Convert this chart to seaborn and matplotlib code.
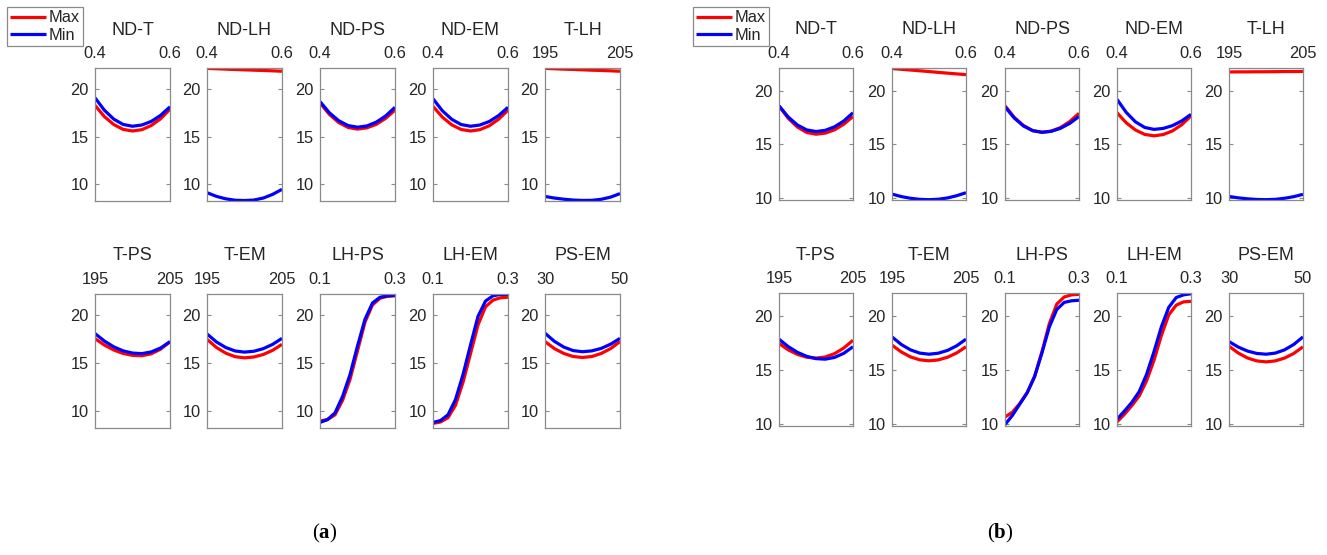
import numpy as np
import pandas as pd
import matplotlib
matplotlib.use("Agg")
import matplotlib.pyplot as plt
import seaborn as sns

sns.set_style("white")
plt.rcParams["font.family"] = ["Liberation Sans", "DejaVu Sans"]
plt.rcParams["mathtext.fontset"] = "custom"
plt.rcParams["mathtext.rm"] = "Liberation Serif"
plt.rcParams["mathtext.bf"] = "Liberation Serif:bold"

# ---------------- data ----------------
PAIRS = ["ND-T", "ND-LH", "ND-PS", "ND-EM", "T-LH",
         "T-PS", "T-EM", "LH-PS", "LH-EM", "PS-EM"]

X_ND = [0.400, 0.425, 0.450, 0.475, 0.500, 0.525, 0.550, 0.575, 0.600]
X_T = [195.0, 196.25, 197.5, 198.75, 200.0, 201.25, 202.5, 203.75, 205.0]
X_PS = [30.0, 32.5, 35.0, 37.5, 40.0, 42.5, 45.0, 47.5, 50.0]
X_LH = [0.10, 0.12, 0.14, 0.16, 0.18, 0.20, 0.22, 0.24, 0.26, 0.28, 0.30]

TICK_ND = ["0.4", "0.6"]
TICK_T = ["195", "205"]
TICK_LH = ["0.1", "0.3"]
TICK_PS = ["30", "50"]

Y_TICKS = [10, 15, 20]

# panel (a)
A_ND_T_MAX = [18.3, 17.12, 16.28, 15.77, 15.6, 15.74, 16.18, 16.89, 17.9]
A_ND_T_MIN = [19.1, 17.79, 16.85, 16.29, 16.1, 16.23, 16.61, 17.25, 18.15]
A_ND_LH_MAX = [22.2, 22.16, 22.12, 22.08, 22.05, 22.01, 21.98, 21.94, 21.9]
A_ND_LH_MIN = [9.1, 8.71, 8.45, 8.3, 8.27, 8.32, 8.53, 8.92, 9.45]
A_ND_PS_MAX = [18.56, 17.35, 16.49, 15.97, 15.8, 15.93, 16.3, 16.93, 17.8]
A_ND_PS_MIN = [18.7, 17.52, 16.68, 16.17, 16.0, 16.13, 16.53, 17.18, 18.1]
A_ND_EM_MAX = [18.2, 17.06, 16.25, 15.76, 15.6, 15.74, 16.15, 16.84, 17.8]
A_ND_EM_MIN = [19.0, 17.73, 16.83, 16.28, 16.1, 16.23, 16.6, 17.23, 18.1]
A_T_LH_MAX = [22.2, 22.16, 22.12, 22.09, 22.05, 22.01, 21.98, 21.94, 21.9]
A_T_LH_MIN = [8.7, 8.53, 8.41, 8.32, 8.28, 8.29, 8.4, 8.63, 9.0]
A_T_PS_MAX = [17.57, 16.9, 16.38, 16.02, 15.82, 15.78, 15.98, 16.47, 17.25]
A_T_PS_MIN = [18.1, 17.32, 16.71, 16.29, 16.06, 16.0, 16.18, 16.59, 17.25]
A_T_EM_MAX = [17.5, 16.65, 16.05, 15.68, 15.56, 15.65, 15.91, 16.35, 16.97]
A_T_EM_MIN = [18.06, 17.23, 16.64, 16.28, 16.16, 16.25, 16.52, 16.97, 17.6]
A_LH_PS_MAX = [8.95, 9.1, 9.6, 11.1, 13.3, 16.3, 19.3, 21.1, 21.8, 22.0, 22.05]
A_LH_PS_MIN = [8.8, 9.1, 9.8, 11.5, 13.8, 16.8, 19.6, 21.3, 21.9, 22.05, 22.1]
A_LH_EM_MAX = [8.7, 8.85, 9.3, 10.6, 13.0, 16.0, 19.0, 20.9, 21.6, 21.85, 21.9]
A_LH_EM_MIN = [8.8, 9.0, 9.6, 11.2, 13.8, 16.9, 19.9, 21.5, 22.05, 22.2, 22.2]
A_PS_EM_MAX = [17.26, 16.53, 16.02, 15.7, 15.6, 15.7, 16.02, 16.53, 17.26]
A_PS_EM_MIN = [18.14, 17.29, 16.69, 16.32, 16.2, 16.29, 16.55, 16.99, 17.6]

# panel (b)
B_ND_T_MAX = [18.58, 17.43, 16.61, 16.11, 15.95, 16.05, 16.36, 16.88, 17.6]
B_ND_T_MIN = [18.6, 17.55, 16.8, 16.35, 16.2, 16.31, 16.64, 17.18, 17.95]
B_ND_LH_MAX = [22.07, 22.0, 21.93, 21.86, 21.79, 21.71, 21.64, 21.57, 21.5]
B_ND_LH_MIN = [10.37, 10.14, 9.98, 9.88, 9.85, 9.89, 10.01, 10.22, 10.5]
B_ND_PS_MAX = [18.6, 17.52, 16.75, 16.28, 16.13, 16.24, 16.57, 17.13, 17.9]
B_ND_PS_MIN = [18.5, 17.46, 16.72, 16.28, 16.13, 16.22, 16.5, 16.96, 17.6]
B_ND_EM_MAX = [17.95, 17.01, 16.34, 15.93, 15.8, 15.92, 16.26, 16.84, 17.65]
B_ND_EM_MIN = [19.2, 17.98, 17.1, 16.58, 16.4, 16.49, 16.75, 17.19, 17.8]
B_T_LH_MAX = [21.75, 21.76, 21.76, 21.77, 21.77, 21.78, 21.79, 21.79, 21.8]
B_T_LH_MIN = [10.15, 10.02, 9.93, 9.87, 9.85, 9.88, 9.98, 10.13, 10.35]
B_T_PS_MAX = [17.45, 16.86, 16.44, 16.18, 16.1, 16.2, 16.51, 17.03, 17.75]
B_T_PS_MIN = [17.85, 17.16, 16.63, 16.26, 16.05, 16.0, 16.16, 16.54, 17.15]
B_T_EM_MAX = [17.3, 16.67, 16.21, 15.94, 15.85, 15.93, 16.18, 16.58, 17.15]
B_T_EM_MIN = [18.06, 17.36, 16.86, 16.56, 16.46, 16.55, 16.81, 17.24, 17.85]
B_LH_PS_MAX = [10.65, 11.1, 11.9, 12.9, 14.4, 16.7, 19.3, 21.1, 21.75, 21.95, 22.0]
B_LH_PS_MIN = [9.95, 10.8, 11.85, 12.9, 14.4, 16.6, 19.0, 20.6, 21.25, 21.4, 21.45]
B_LH_EM_MAX = [10.2, 10.9, 11.7, 12.6, 14.0, 15.9, 18.2, 20.1, 21.0, 21.3, 21.35]
B_LH_EM_MIN = [10.45, 11.2, 12.0, 13.0, 14.6, 16.7, 19.0, 20.8, 21.7, 21.95, 22.05]
B_PS_EM_MAX = [17.2, 16.57, 16.11, 15.84, 15.75, 15.84, 16.1, 16.53, 17.14]
B_PS_EM_MIN = [17.63, 17.12, 16.75, 16.53, 16.46, 16.56, 16.86, 17.36, 18.06]

X_GRID = {"ND": X_ND, "T": X_T, "LH": X_LH, "PS": X_PS}
X_TICKLABELS = {"ND": TICK_ND, "T": TICK_T, "LH": TICK_LH, "PS": TICK_PS}

DATA = {
    "a": {
        "ND-T": (A_ND_T_MAX, A_ND_T_MIN), "ND-LH": (A_ND_LH_MAX, A_ND_LH_MIN),
        "ND-PS": (A_ND_PS_MAX, A_ND_PS_MIN), "ND-EM": (A_ND_EM_MAX, A_ND_EM_MIN),
        "T-LH": (A_T_LH_MAX, A_T_LH_MIN), "T-PS": (A_T_PS_MAX, A_T_PS_MIN),
        "T-EM": (A_T_EM_MAX, A_T_EM_MIN), "LH-PS": (A_LH_PS_MAX, A_LH_PS_MIN),
        "LH-EM": (A_LH_EM_MAX, A_LH_EM_MIN), "PS-EM": (A_PS_EM_MAX, A_PS_EM_MIN),
    },
    "b": {
        "ND-T": (B_ND_T_MAX, B_ND_T_MIN), "ND-LH": (B_ND_LH_MAX, B_ND_LH_MIN),
        "ND-PS": (B_ND_PS_MAX, B_ND_PS_MIN), "ND-EM": (B_ND_EM_MAX, B_ND_EM_MIN),
        "T-LH": (B_T_LH_MAX, B_T_LH_MIN), "T-PS": (B_T_PS_MAX, B_T_PS_MIN),
        "T-EM": (B_T_EM_MAX, B_T_EM_MIN), "LH-PS": (B_LH_PS_MAX, B_LH_PS_MIN),
        "LH-EM": (B_LH_EM_MAX, B_LH_EM_MIN), "PS-EM": (B_PS_EM_MAX, B_PS_EM_MIN),
    },
}

# ---------------- layout ----------------
W, H = 1327, 555
fig = plt.figure(figsize=(W / 100, H / 100), dpi=100)

COL_LEFT = {"a": [95, 207, 320, 433, 545], "b": [779, 892, 1005, 1117, 1229]}
COL_W = {"a": 75, "b": 74}
ROW_Y = {"a": [(68, 201), (294, 428)], "b": [(68, 200), (293, 426)]}
YLIM = {"a": (8.22, 22.24), "b": (9.82, 22.12)}
SPINE = "#8a8a8a"
TXT = "#262626"
PALETTE = {"Max": "#ff0000", "Min": "#0000ff"}
TICK_FS = 11.8
TITLE_FS = 13

first_ax = {}
for p in ["a", "b"]:
    for idx, pair in enumerate(PAIRS):
        r, c = divmod(idx, 5)
        top, bot = ROW_Y[p][r]
        left = COL_LEFT[p][c]
        ax = fig.add_axes([left / W, 1 - bot / H, COL_W[p] / W, (bot - top) / H])
        var = pair.split("-")[0]
        xs = X_GRID[var]
        ymax, ymin = DATA[p][pair]
        df = pd.DataFrame({
            "x": list(xs) + list(xs),
            "y": list(ymax) + list(ymin),
            "s": ["Max"] * len(xs) + ["Min"] * len(xs),
        })
        sns.lineplot(data=df, x="x", y="y", hue="s", hue_order=["Max", "Min"],
                     palette=PALETTE, linewidth=2.3, legend=False, ax=ax,
                     solid_joinstyle="round", solid_capstyle="butt")
        ax.set_xlim(xs[0], xs[-1])
        ax.set_ylim(*YLIM[p])
        ax.set_xticks([xs[0], xs[-1]])
        ax.set_xticklabels(X_TICKLABELS[var])
        ax.set_yticks(Y_TICKS)
        ax.set_yticklabels([str(t) for t in Y_TICKS])
        ax.xaxis.tick_top()
        ax.tick_params(axis="x", top=True, bottom=False, direction="in", length=0,
                       pad=5, labelsize=TICK_FS, labelcolor=TXT)
        ax.tick_params(axis="y", left=True, right=True, direction="in", length=3,
                       width=0.8, color=SPINE, pad=4.5, labelsize=TICK_FS, labelcolor=TXT)
        ax.set_xlabel("")
        ax.set_ylabel("")
        for sp in ax.spines.values():
            sp.set_visible(True)
            sp.set_color(SPINE)
            sp.set_linewidth(0.9)
        ax.text(0.5, 1 + 38 / (bot - top), pair, transform=ax.transAxes,
                ha="center", va="center", fontsize=TITLE_FS, color=TXT)
        if idx == 0:
            first_ax[p] = ax

# legends
LEG_POS = {"a": (7, 7), "b": (693, 7)}
for p in ["a", "b"]:
    handles = first_ax[p].get_lines()[:2]
    leg = fig.legend(handles, ["Max", "Min"], loc="upper left",
                     bbox_to_anchor=(LEG_POS[p][0] / W, 1 - LEG_POS[p][1] / H),
                     bbox_transform=fig.transFigure, frameon=True, fancybox=False,
                     edgecolor=SPINE, framealpha=1, fontsize=TICK_FS, handlelength=2.2,
                     handletextpad=0.15, borderpad=0.2, labelspacing=0.15,
                     borderaxespad=0)
    leg.get_frame().set_linewidth(0.9)
    for t in leg.get_texts():
        t.set_color(TXT)

# captions
fig.text(325 / W, 1 - 533 / H, r"($\mathbf{a}$)", ha="center", va="center",
         fontsize=15, family="Liberation Serif", color="black")
fig.text(1000 / W, 1 - 533 / H, r"($\mathbf{b}$)", ha="center", va="center",
         fontsize=15, family="Liberation Serif", color="black")

fig.savefig("out.png", dpi=100)
